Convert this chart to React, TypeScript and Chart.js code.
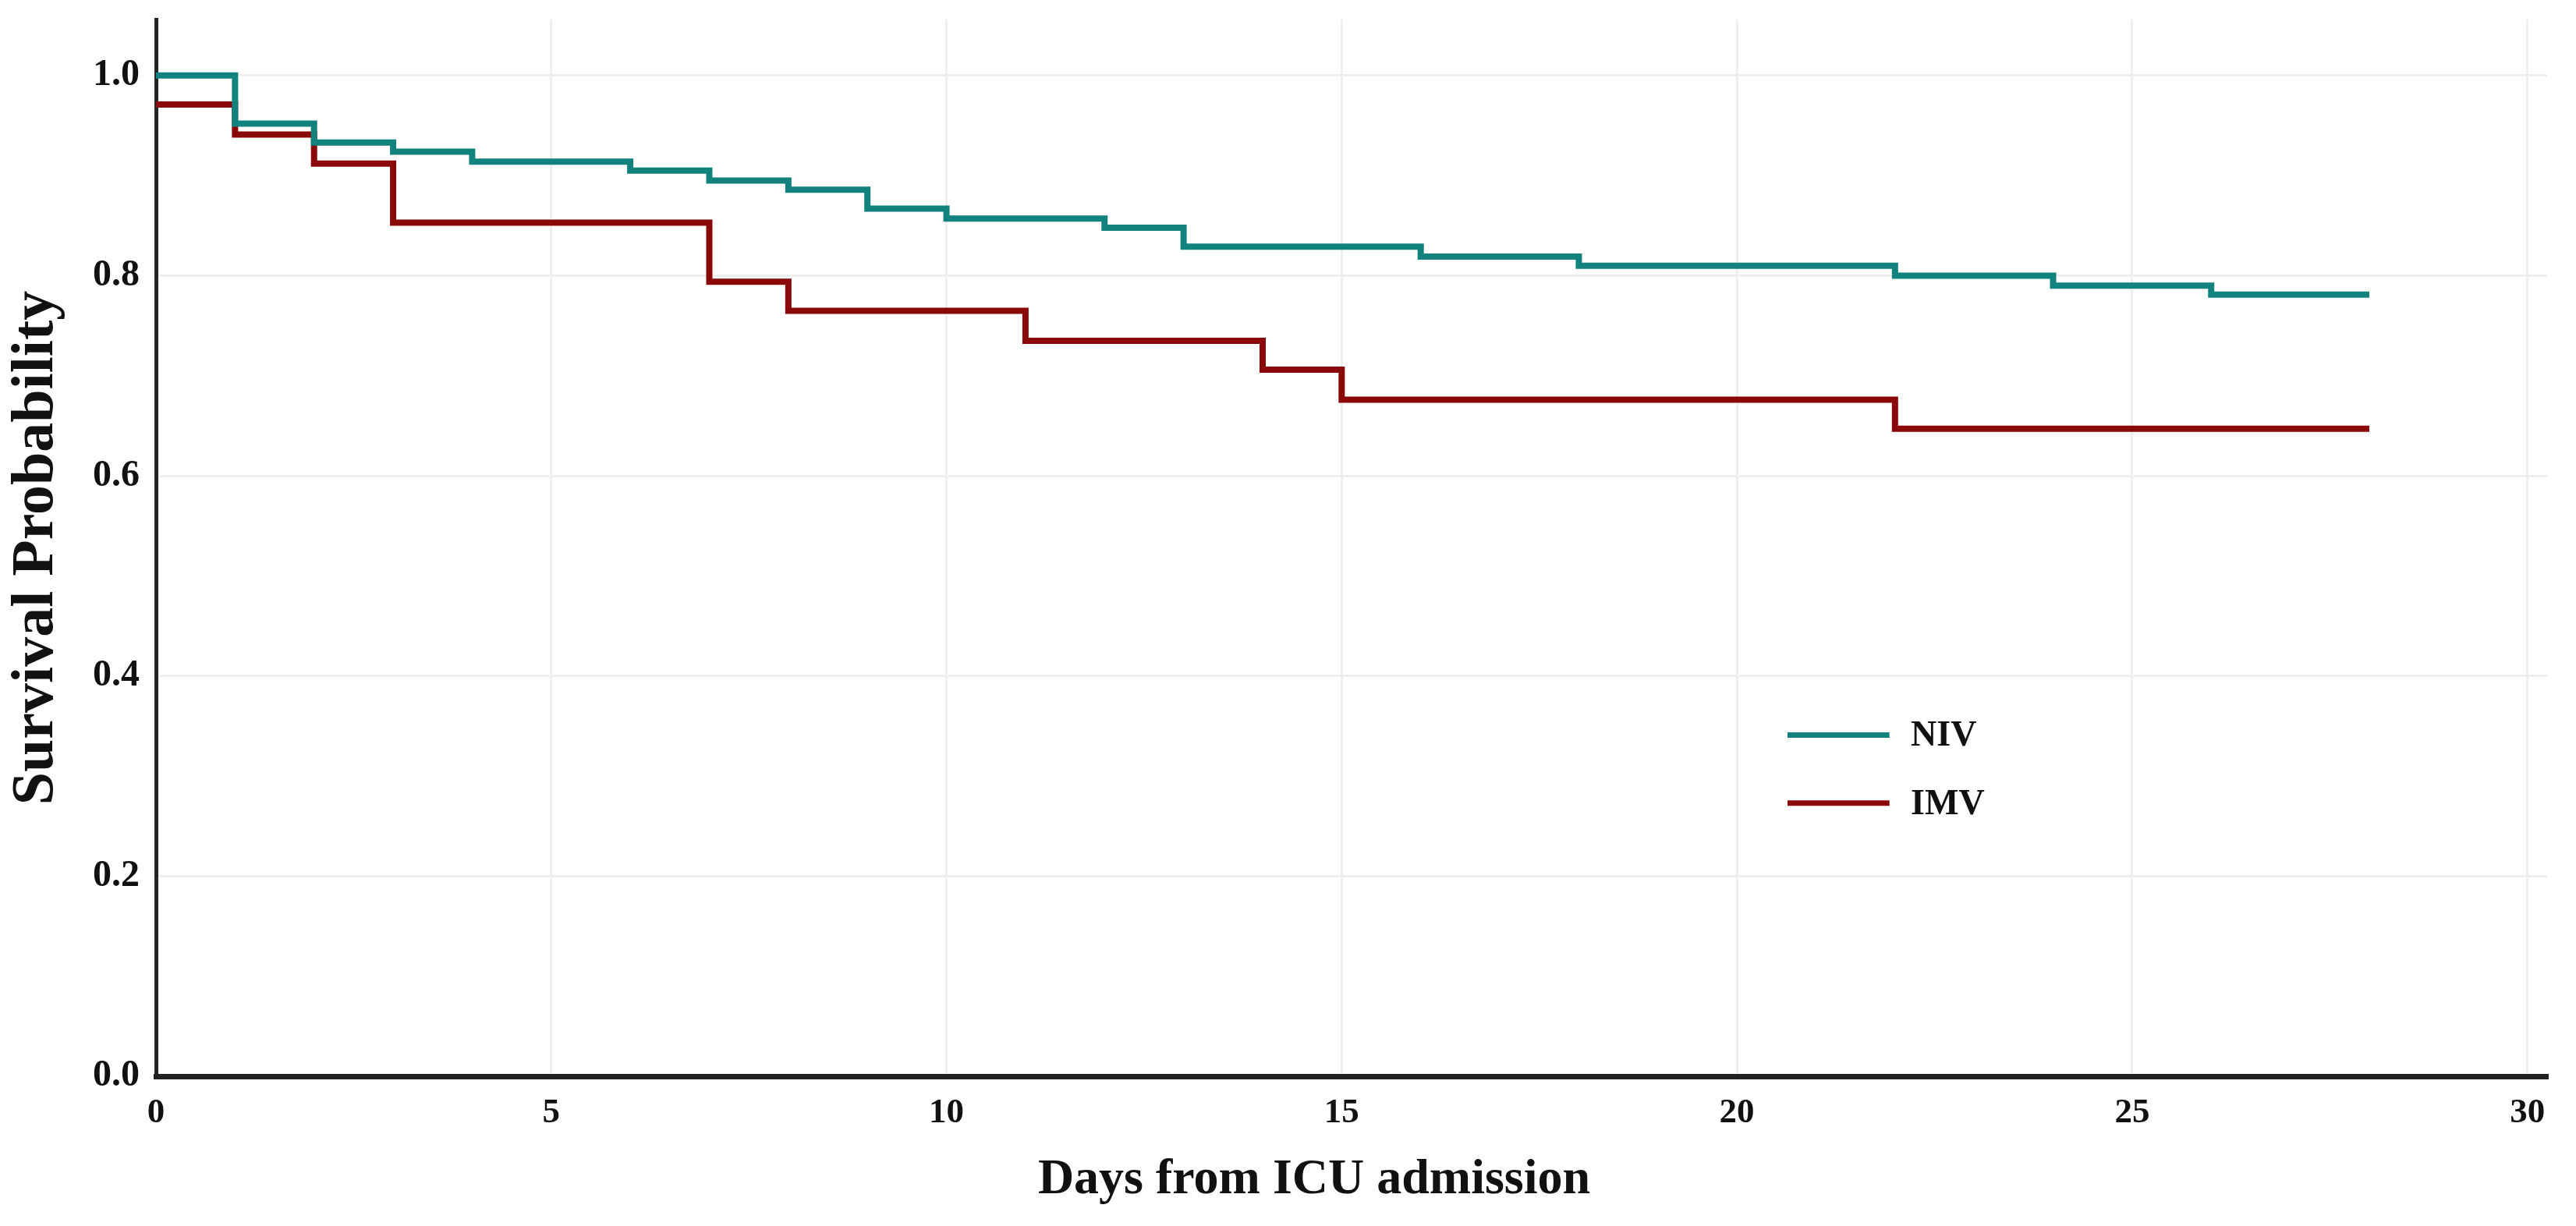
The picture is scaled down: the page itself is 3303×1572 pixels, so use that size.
import React, { useEffect, useRef } from 'react';
import { Chart, registerables } from 'chart.js';

Chart.register(...registerables);

// ---- data ----
const nivDays = [0, 1, 2, 3, 4, 6, 7, 8, 9, 10, 12, 13, 16, 18, 22, 24, 26, 28];
const nivSurvival = [1.0, 0.952, 0.933, 0.924, 0.914, 0.905, 0.895, 0.886, 0.867, 0.857, 0.848, 0.829, 0.819, 0.81, 0.8, 0.79, 0.781, 0.781];
const imvDays = [0, 1, 2, 3, 7, 8, 11, 14, 15, 22, 28];
const imvSurvival = [0.971, 0.941, 0.912, 0.853, 0.794, 0.765, 0.735, 0.706, 0.676, 0.647, 0.647];
const seriesNames = ['NIV', 'IMV'];
const xTicks = [0, 5, 10, 15, 20, 25, 30];
const yTicks = [0.0, 0.2, 0.4, 0.6, 0.8, 1.0];
const xTitle = 'Days from ICU admission';
const yTitle = 'Survival Probability';

// ---- styling / layout ----
const W = 3303;
const H = 1572;
const COLORS = ['#11827e', '#8b0808'];
const FONT = '"Liberation Serif", "Times New Roman", serif';
const LEGEND_POS = { x1: 20.64, x2: 21.93, xText: 22.2, y: [0.341, 0.273] };
const X_TITLE_SHIFT = -48;
const X_TITLE_FROM_AXIS = 133;

const legendPlugin = {
  id: 'kmLegend',
  afterDatasetsDraw(chart: any) {
    const { ctx } = chart;
    const xs = chart.scales.x;
    const ys = chart.scales.y;
    ctx.save();
    chart.data.datasets.forEach((ds: any, i: number) => {
      const yy = ys.getPixelForValue(LEGEND_POS.y[i]);
      ctx.strokeStyle = ds.borderColor;
      ctx.lineWidth = 7;
      ctx.lineCap = 'butt';
      ctx.beginPath();
      ctx.moveTo(xs.getPixelForValue(LEGEND_POS.x1), yy);
      ctx.lineTo(xs.getPixelForValue(LEGEND_POS.x2), yy);
      ctx.stroke();
      ctx.fillStyle = '#111';
      ctx.font = `bold 46px ${FONT}`;
      ctx.textAlign = 'left';
      ctx.textBaseline = 'middle';
      ctx.fillText(ds.label, xs.getPixelForValue(LEGEND_POS.xText), yy + 2);
    });
    // x-axis title
    const ca = chart.chartArea;
    ctx.fillStyle = '#111';
    ctx.font = `bold 64px ${FONT}`;
    ctx.textAlign = 'center';
    ctx.textBaseline = 'middle';
    ctx.fillText(xTitle, (ca.left + ca.right) / 2 + X_TITLE_SHIFT, ca.bottom + X_TITLE_FROM_AXIS);
    ctx.restore();
  },
};

export default function App() {
  const ref = useRef<HTMLCanvasElement | null>(null);

  useEffect(() => {
    document.body.style.margin = '0';
    const canvas = ref.current;
    if (!canvas) return;
    const chart = new Chart(canvas, {
      type: 'line',
      data: {
        datasets: [
          {
            label: seriesNames[0],
            data: nivDays.map((d, i) => ({ x: d, y: nivSurvival[i] })),
            borderColor: COLORS[0],
            backgroundColor: COLORS[0],
            borderWidth: 8,
            stepped: 'before',
            pointRadius: 0,
            fill: false,
          },
          {
            label: seriesNames[1],
            data: imvDays.map((d, i) => ({ x: d, y: imvSurvival[i] })),
            borderColor: COLORS[1],
            backgroundColor: COLORS[1],
            borderWidth: 8,
            stepped: 'before',
            pointRadius: 0,
            fill: false,
          },
        ],
      },
      options: {
        animation: false,
        responsive: false,
        devicePixelRatio: 1,
        layout: { padding: { top: 25, right: 37, bottom: 0, left: 0 } },
        plugins: {
          legend: { display: false },
          tooltip: { enabled: false },
        },
        scales: {
          x: {
            type: 'linear',
            min: 0,
            max: 30.25,
            afterBuildTicks: (s: any) => {
              s.ticks = xTicks.map((v) => ({ value: v }));
            },
            afterFit: (s: any) => {
              s.height = 192;
              s.paddingLeft = 0;
              s.paddingRight = 0;
            },
            ticks: {
              includeBounds: false,
              padding: 20,
              color: '#111',
              font: { family: FONT, size: 45, weight: 'bold' },
              callback: (v: any) => String(v),
              maxRotation: 0,
            },
            grid: { color: '#efefef', lineWidth: 3, drawTicks: false },
            border: { display: true, color: '#222', width: 7 },
            title: { display: false },
          },
          y: {
            type: 'linear',
            min: 0,
            max: 1.056,
            afterBuildTicks: (s: any) => {
              s.ticks = yTicks.map((v) => ({ value: v }));
            },
            afterFit: (s: any) => {
              s.width = 200;
              s.paddingTop = 0;
              s.paddingBottom = 0;
            },
            ticks: {
              includeBounds: false,
              padding: 21,
              color: '#111',
              font: { family: FONT, size: 48, weight: 'bold' },
              callback: (v: any) => Number(v).toFixed(1),
            },
            grid: { color: '#efefef', lineWidth: 3, drawTicks: false },
            border: { display: true, color: '#222', width: 5 },
            title: {
              display: true,
              text: yTitle,
              color: '#111',
              font: { family: FONT, size: 76, weight: 'bold' },
              padding: { top: 2, bottom: 0 },
            },
          },
        },
      },
      plugins: [legendPlugin],
    });
    return () => chart.destroy();
  }, []);

  return (
    <div style={{ width: W, height: H, background: '#fff' }}>
      <canvas ref={ref} width={W} height={H} style={{ display: 'block', width: W, height: H }} />
    </div>
  );
}
